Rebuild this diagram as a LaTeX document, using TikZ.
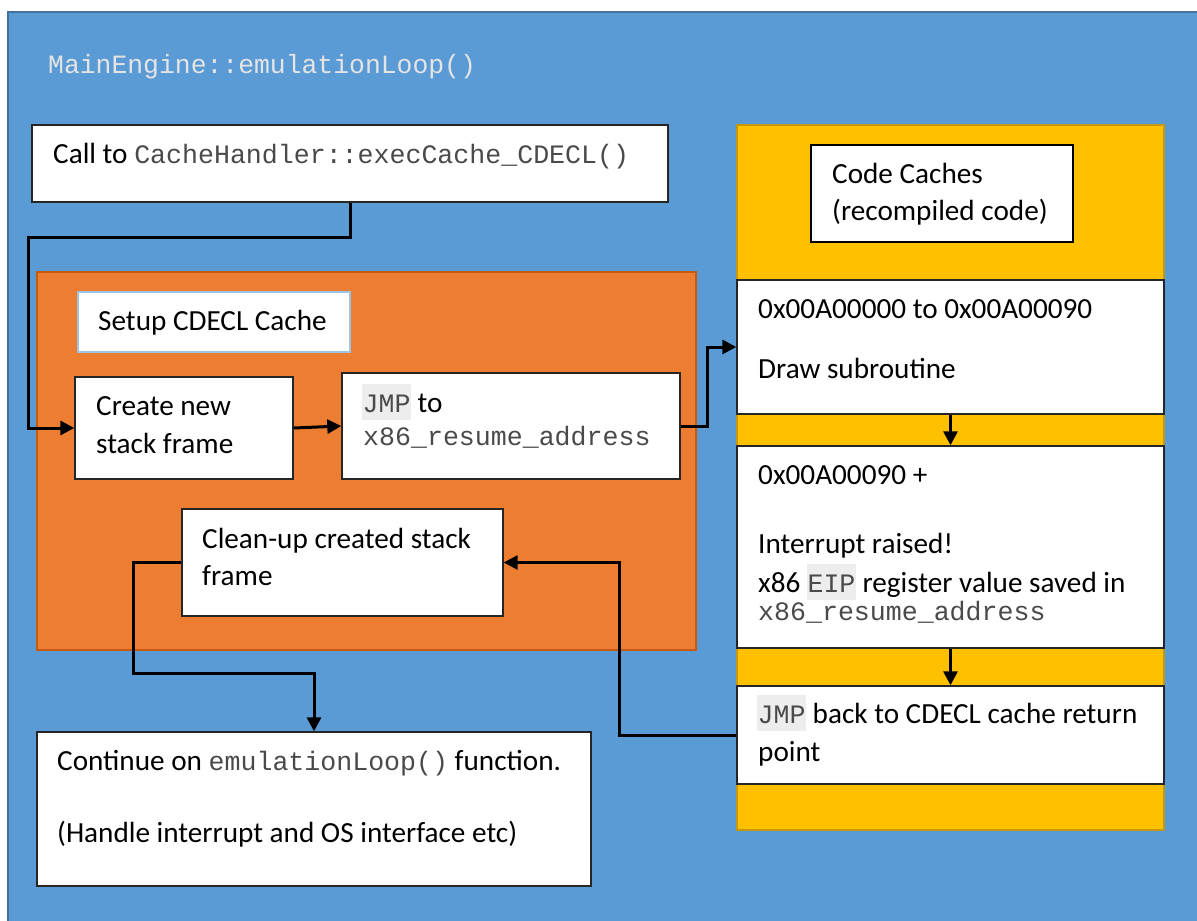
\documentclass[tikz,border=0pt]{standalone}
\usepackage{fontspec}
\setmainfont{Carlito}
\newfontfamily\codefont{Liberation Mono}
\usetikzlibrary{arrows.meta,fit}

\definecolor{bgblue}{HTML}{5B9BD5}
\definecolor{bgedge}{HTML}{41719C}
\definecolor{setupor}{HTML}{ED7D31}
\definecolor{setupedge}{HTML}{C55A11}
\definecolor{cachey}{HTML}{FFC000}
\definecolor{cacheedge}{HTML}{C49A0C}
\definecolor{boxedge}{HTML}{262626}
\definecolor{labeledge}{HTML}{9DC3E6}
\definecolor{titlegray}{HTML}{E4E4E4}
\definecolor{codegray}{HTML}{4A4A4A}
\definecolor{hlgray}{HTML}{EDEDED}

% inline code and highlighted code
\newcommand\codetxt[1]{{\codefont\fontsize{26.6}{30}\selectfont\color{codegray}#1}}
\newcommand\hlcode[1]{{\setlength{\fboxsep}{0pt}\colorbox{hlgray}{\rule[-8pt]{0pt}{36pt}\hspace{0.5pt}\codetxt{#1}\hspace{0.5pt}}}}

\tikzset{
  wbox/.style={draw=boxedge, fill=white, line width=1.4pt, inner sep=0pt},
  lbox/.style={draw=labeledge, fill=white, line width=1.2pt, inner sep=0pt},
  txt/.style={anchor=base west, inner sep=0pt, font=\fontsize{29.2}{34}\selectfont},
  conn/.style={line width=3pt, line join=miter, -{Triangle[length=14pt,width=14pt]}},
}

\begin{document}
\begin{tikzpicture}[x=1pt,y=-1pt]
\useasboundingbox (0,0) rectangle (1197,921);
\clip (0,0) rectangle (1197,921);
\fill[white] (0,0) rectangle (1197,921);

% outer frame: the emulation loop
\node[draw=bgedge, fill=bgblue, line width=1.5pt, inner sep=0pt, fit={(8,12) (1210,930)}] (loop) {};
\node[anchor=base west, inner sep=0pt, text=titlegray, font=\codefont\fontsize{26.4}{30}\selectfont] (title) at (48,73) {MainEngine::emulationLoop()};

% call into the cache handler
\node[wbox, fit={(32,125) (668,202)}] (call) {};
\node[txt] (calltxt) at (53,163) {Call to \codetxt{CacheHandler::execCache\_CDECL()}};

% CDECL cache setup block
\node[draw=setupedge, fill=setupor, line width=1.4pt, inner sep=0pt, fit={(37,272) (696,650)}] (setup) {};
\node[lbox, fit={(78,292) (350,352)}] (setuplbl) {};
\node[txt] (setuptxt) at (98,330) {Setup CDECL Cache};

\node[wbox, fit={(75,377) (293,479)}] (create) {};
\node[txt] (create1) at (96,415) {Create new};
\node[txt] (create2) at (96,453) {stack frame};

\node[wbox, fit={(342,373) (680,479)}] (jmp) {};
\node[txt] (jmp1) at (362,412) {\hlcode{JMP} to};
\node[txt] (jmp2) at (363,445) {\codetxt{x86\_resume\_address}};

\node[wbox, fit={(182,509) (503,616)}] (cleanup) {};
\node[txt] (clean1) at (202,548) {Clean-up created stack};
\node[txt] (clean2) at (202,585) {frame};

% back in the emulation loop
\node[wbox, fit={(37,732) (591,886)}] (cont) {};
\node[txt] (cont1) at (57,770) {Continue on \codetxt{emulationLoop()} function.};
\node[txt] (cont2) at (57,842) {(Handle interrupt and OS interface etc)};

% code caches column
\node[draw=cacheedge, fill=cachey, line width=1.4pt, inner sep=0pt, fit={(737,125) (1164,830)}] (caches) {};
\node[wbox, line width=1.1pt, draw=black, fit={(811,145) (1073,242)}] (cclbl) {};
\node[txt] (cc1) at (832,183) {Code Caches};
\node[txt] (cc2) at (832,220) {(recompiled code)};

\node[wbox, fit={(737,280) (1164,414)}] (drawsub) {};
\node[txt] (draw1) at (758,318) {0x00A00000 to 0x00A00090};
\node[txt] (draw2) at (758,378) {Draw subroutine};

\node[wbox, fit={(737,446) (1164,648)}] (intr) {};
\node[txt] (intr1) at (758,484) {0x00A00090 +};
\node[txt] (intr2) at (758,553) {Interrupt raised!};
\node[txt] (intr3) at (758,592) {x86 \hlcode{EIP} register value saved in};
\node[txt] (intr4) at (758,620) {\codetxt{x86\_resume\_address}};

\node[wbox, fit={(737,686) (1164,784)}] (back) {};
\node[txt] (back1) at (757,723) {\hlcode{JMP} back to CDECL cache return};
\node[txt] (back2) at (758,761) {point};

% connectors
\coordinate (bendA) at (28,237);
\draw[conn] (call.south) |- (bendA) |- (create.west);
\draw[conn] (create.east) -- (jmp.west);
\draw[conn] (jmp.east) -- ++(27,0) |- (drawsub.west);
\draw[conn] (drawsub.south) -- (intr.north);
\draw[conn] (intr.south) -- (back.north);
\draw[conn] (back.west) -- ++(-117,0) |- (cleanup.east);
\coordinate (bendB) at (314,673);
\draw[conn] (cleanup.west) -- ++(-48,0) |- (bendB) -- (cont.north);
\end{tikzpicture}
\end{document}
